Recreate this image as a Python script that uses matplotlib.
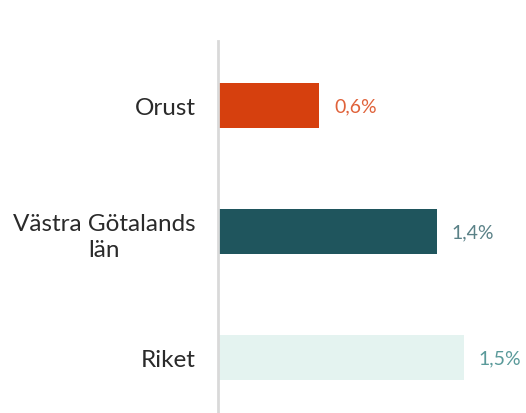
import matplotlib
matplotlib.use('Agg')
import matplotlib.pyplot as plt

# data
regions = ['Orust', 'Västra Götalands\nlän', 'Riket']
values = [0.63, 1.36, 1.53]
bar_colors = ['#d6400e', '#1f555d', '#e4f3f0']
label_colors = ['#e0623a', '#5a8187', '#5a9a9a']

plt.rcParams['font.family'] = ['Lato', 'DejaVu Sans']

fig = plt.figure(figsize=(5.26, 4.14), dpi=100)
ax = fig.add_axes([0.4144, 0.0, 0.5817, 0.8986])

pos = list(range(len(regions)))
ax.barh(pos, values, height=0.357, color=bar_colors)
ax.set_xlim(0, 1.9)
ax.set_ylim(2.44, -0.512)

# värdeetiketter
for p, v, c in zip(pos, values, label_colors):
    txt = ('%.1f' % v).replace('.', ',') + '%'
    ax.text(v + 0.09, p, txt, color=c, fontsize=14,
            va='center', ha='left')

ax.set_yticks(pos)
ax.set_yticklabels(regions, fontsize=17.5, color='#2a2a2a',
                   multialignment='center', linespacing=1.35)
ax.tick_params(axis='y', length=0, pad=16)
ax.set_xticks([])
for s in ['top', 'right', 'bottom']:
    ax.spines[s].set_visible(False)
ax.spines['left'].set_color('#d9d9d9')
ax.spines['left'].set_linewidth(2)

fig.savefig('out.png', dpi=100)
